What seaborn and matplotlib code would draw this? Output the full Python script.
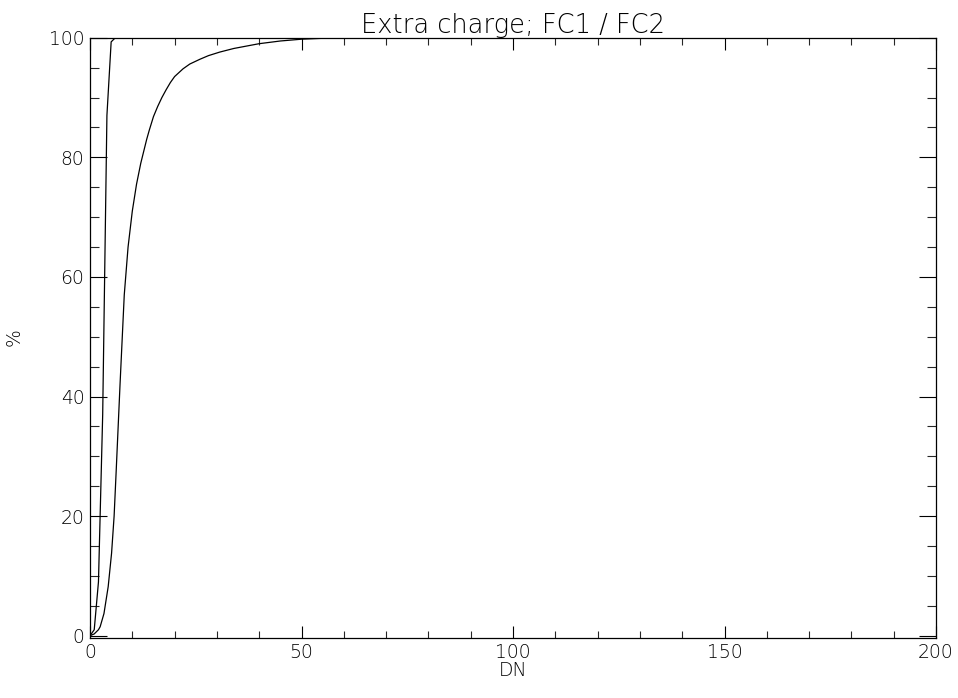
import matplotlib
matplotlib.use("Agg")
import matplotlib.pyplot as plt
from matplotlib.ticker import MultipleLocator
import seaborn as sns
import pandas as pd

# FC1 curve (steep)
fc1_dn = [0, 1, 2, 3, 4, 5, 6, 200]
fc1_pct = [0, 1.0, 9.0, 37.0, 87.0, 99.3, 100.0, 100.0]

# FC2 curve (slower)
fc2_dn = [0, 1, 2, 2.4, 3.3, 4.3, 5.1, 5.7, 6.2, 7.1, 8.1, 9, 10, 11, 12, 13.4,
          14, 15, 16, 17, 18, 19, 20, 22, 23.6, 26, 28, 30.7, 34, 40, 45, 50, 55, 60, 70, 200]
fc2_pct = [0, 0.3, 1.0, 1.5, 3.7, 8.2, 13.8, 20.0, 27.7, 42.0, 57.0, 65.0, 71.0,
           75.5, 79.0, 83.0, 84.5, 86.8, 88.5, 90.0, 91.3, 92.5, 93.5, 94.8, 95.6,
           96.4, 97.0, 97.6, 98.2, 99.0, 99.45, 99.75, 99.9, 99.97, 100.0, 100.0]

title = "Extra charge; FC1 / FC2"
xlabel = "DN"
ylabel = "%"
xticks = [0, 50, 100, 150, 200]
yticks = [0, 20, 40, 60, 80, 100]

sns.set_style("white")
plt.rcParams['font.family'] = ['DejaVu Sans']
plt.rcParams['font.weight'] = 'light'
plt.rcParams['text.color'] = 'black'
plt.rcParams['axes.labelcolor'] = 'black'

df = pd.concat([
    pd.DataFrame({"DN": fc1_dn, "pct": fc1_pct, "curve": "FC1"}),
    pd.DataFrame({"DN": fc2_dn, "pct": fc2_pct, "curve": "FC2"}),
])

fig = plt.figure(figsize=(9.58, 6.98), dpi=100)
ax = fig.add_axes([90/958, 1-637.5/698, (936-90)/958, (637.5-37.7)/698])

sns.lineplot(data=df, x="DN", y="pct", units="curve", estimator=None,
             color="black", linewidth=0.9, ax=ax, sort=False)

ax.set_xlim(0, 200)
ax.set_ylim(-0.3, 100)
ax.set_xticks(xticks)
ax.set_xticklabels([str(t) for t in xticks])
ax.set_yticks(yticks)
ax.set_yticklabels([str(t) for t in yticks])
ax.xaxis.set_minor_locator(MultipleLocator(10))
ax.yaxis.set_minor_locator(MultipleLocator(5))

ax.tick_params(axis='x', which='major', direction='in', length=8.6, width=0.8,
               top=True, bottom=True, labelsize=13.5, pad=4, colors='black')
ax.tick_params(axis='x', which='minor', direction='in', length=5, width=0.8,
               top=True, bottom=True)
ax.tick_params(axis='y', which='major', direction='in', length=12.2, width=0.8,
               left=True, right=True, labelsize=13.5, pad=4, colors='black')
ax.tick_params(axis='y', which='minor', direction='in', length=6.3, width=0.8,
               left=True, right=True)
for lab in ax.get_xticklabels() + ax.get_yticklabels():
    lab.set_fontweight('light')

for s in ax.spines.values():
    s.set_visible(True)
    s.set_color('black')
    s.set_linewidth(0.9)

ax.set_xlabel(xlabel, fontsize=13.5, labelpad=-1, fontweight='light')
ax.set_ylabel(ylabel, fontsize=13.5, labelpad=18, fontweight='light')
ax.set_title(title, fontsize=18.5, pad=3, color='black', fontweight='light')
ax.grid(False)

fig.savefig("out.png", dpi=100)
